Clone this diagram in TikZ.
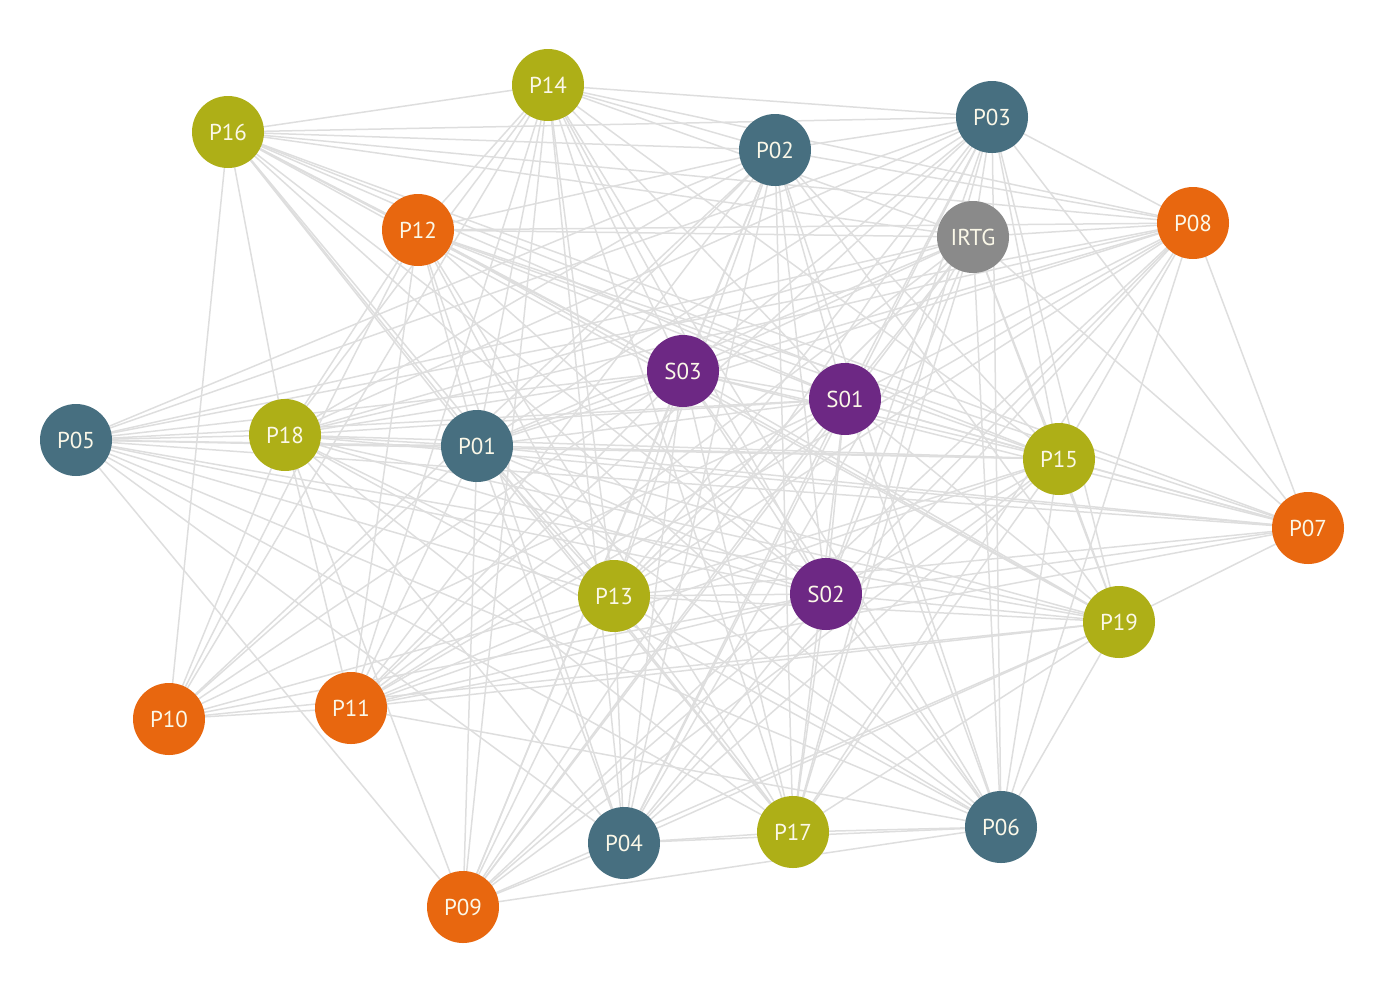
\documentclass[tikz,border=0pt]{standalone}
\usepackage{fontspec}
\setmainfont{PT Sans}
\usetikzlibrary{backgrounds}
\definecolor{cblue}{HTML}{476F80}
\definecolor{colive}{HTML}{AEAF17}
\definecolor{corange}{HTML}{E8670F}
\definecolor{cpurple}{HTML}{6D2884}
\definecolor{cgray}{HTML}{8A8A8A}
\definecolor{cedge}{HTML}{DEDEDE}
\definecolor{ctext}{HTML}{FBF8E8}
\tikzset{
  nd/.style={circle, inner sep=0pt, minimum size=72pt, text=ctext,
    font=\fontsize{23}{23}\selectfont},
  bl/.style={nd, fill=cblue},
  ol/.style={nd, fill=colive},
  orn/.style={nd, fill=corange},
  pu/.style={nd, fill=cpurple},
  gr/.style={nd, fill=cgray},
  edge/.style={draw=cedge, line width=1.5pt}
}
\begin{document}
\begin{tikzpicture}[x=1pt,y=-1pt]
\useasboundingbox (0,0) rectangle (1400,989);
\node[ol]  (P14)  at (548,85)  {P14};
\node[ol]  (P16)  at (228,132) {P16};
\node[bl]  (P02)  at (775,150) {P02};
\node[bl]  (P03)  at (992,117) {P03};
\node[orn] (P12)  at (418,230) {P12};
\node[gr]  (IRTG) at (973,237) {IRTG};
\node[orn] (P08)  at (1193,223) {P08};
\node[pu]  (S03)  at (683,371) {S03};
\node[pu]  (S01)  at (845,399) {S01};
\node[bl]  (P05)  at (76,440)  {P05};
\node[ol]  (P18)  at (285,435) {P18};
\node[bl]  (P01)  at (477,446) {P01};
\node[ol]  (P15)  at (1059,459) {P15};
\node[orn] (P07)  at (1308,528) {P07};
\node[ol]  (P13)  at (614,596) {P13};
\node[pu]  (S02)  at (826,594) {S02};
\node[ol]  (P19)  at (1119,622) {P19};
\node[orn] (P10)  at (169,719) {P10};
\node[orn] (P11)  at (351,708) {P11};
\node[bl]  (P04)  at (624,843) {P04};
\node[ol]  (P17)  at (793,832) {P17};
\node[bl]  (P06)  at (1001,827) {P06};
\node[orn] (P09)  at (463,907) {P09};
\begin{scope}[on background layer]
\foreach \a/\bs in {
  P05/{P18,P01,S03,S01,P15,P07,P19,S02,P13,P17,P06,P04,P09,P03,P02,IRTG,P08},
  P16/{P14,P02,P03,IRTG,P08,P12,S03,S01,P15,P07,P19,P01,P13,P17,S02,P18,P10,P06},
  P14/{P02,P03,P08,IRTG,P12,P18,P01,S03,S01,P13,P11,P10,P09,P04,S02,P17,P15,P06},
  P12/{P02,IRTG,P08,S03,S01,P15,P07,P19,S02,P13,P01,P18,P11,P10,P04,P17},
  P02/{P03,P08,S03,S01,P15,S02,P13,P01,P18,P11,P10,P09,P04,P17,P06,P19},
  P03/{IRTG,P08,S03,S01,P15,P07,P19,S02,P13,P01,P18,P11,P09,P04,P17,P06},
  IRTG/{P08,S03,S01,P15,P07,P19,S02,P13,P01,P18,P11,P09,P04,P17,P06},
  P08/{S03,S01,P15,P07,S02,P13,P01,P18,P11,P09,P04,P17,P06},
  S03/{S01,P15,P07,P19,S02,P13,P01,P18,P11,P10,P09,P04,P17,P06},
  S01/{P15,P07,P19,S02,P13,P01,P18,P11,P10,P09,P04,P17,P06},
  P18/{P01,P15,P07,P19,S02,P13,P11,P10,P09,P04,P17,P06},
  P01/{P15,P07,P19,S02,P13,P11,P10,P09,P04,P17,P06},
  P15/{P07,P19,S02,P13,P11,P09,P04,P17,P06},
  P07/{P19,S02,P13,P11},
  P13/{S02,P19,P11,P10,P09,P04,P17,P06},
  S02/{P19,P11,P10,P09,P04,P17,P06},
  P19/{P11,P10,P09,P04,P17,P06},
  P10/{P11},
  P11/{P06},
  P04/{P17,P06,P09},
  P17/{P06},
  P06/{P09}}
  {\foreach \b in \bs {\path[edge] (\a.center) -- (\b.center);}}
\end{scope}
\end{tikzpicture}
\end{document}
